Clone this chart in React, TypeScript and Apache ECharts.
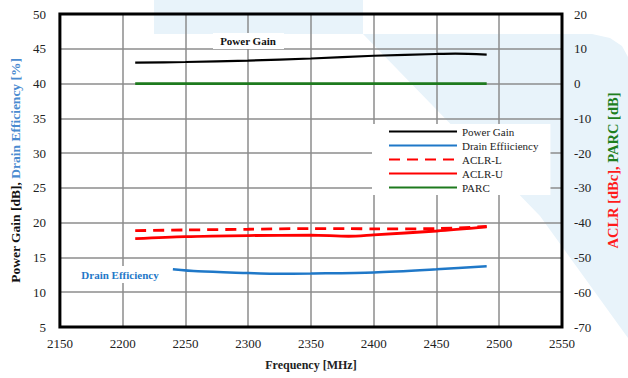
import React, { useEffect, useRef } from "react";
import * as echarts from "echarts";

// ---- data ----
const xTicks = { min: 2150, max: 2550, interval: 50 };
const leftTicks = { min: 5, max: 50, interval: 5 };
const rightTicks = { min: -70, max: 20, interval: 10 };

const gainFreq = [2210, 2250, 2300, 2350, 2400, 2450, 2465, 2490];
const gainVals = [43.0, 43.1, 43.3, 43.6, 44.0, 44.25, 44.3, 44.15];

const effFreq = [2240, 2260, 2300, 2320, 2350, 2400, 2450, 2490];
const effVals = [13.3, 13.0, 12.75, 12.65, 12.7, 12.85, 13.3, 13.75];

const aclrFreq = [2210, 2250, 2300, 2350, 2380, 2400, 2450, 2490];
const aclrLVals = [-42.3, -42.1, -41.9, -41.7, -41.7, -41.8, -41.7, -41.1];
const aclrUVals = [-44.6, -44.0, -43.7, -43.6, -43.9, -43.5, -42.4, -41.2];

const parcFreq = [2210, 2350, 2490];
const parcVals = [0, 0, 0];

const seriesNames = ["Power Gain", "Drain Effiiciency", "ACLR-L", "ACLR-U", "PARC"];

const zip = (xs: number[], ys: number[]) => xs.map((x, i) => [x, ys[i]]);

const FONT = "Liberation Serif";

export default function App() {
  const ref = useRef<HTMLDivElement>(null);
  useEffect(() => {
    document.body.style.margin = "0";
    if (!ref.current) return;
    const chart = echarts.init(ref.current, undefined, { renderer: "svg" });
    const wm = "#e8f3fa";
    const option: any = {
      animation: false,
      textStyle: { fontFamily: FONT },
      grid: {
        left: 55,
        right: 58,
        top: 14,
        bottom: 51,
        show: true,
        borderColor: "#000",
        borderWidth: 3,
        backgroundColor: "transparent",
        z: 10,
      },
      graphic: [
        {
          type: "rect",
          z: -100,
          silent: true,
          shape: { x: 154, y: 0, width: 209, height: 34 },
          style: { fill: wm },
        },
        {
          type: "polygon",
          z: -100,
          silent: true,
          shape: {
            points: [
              [363, 34],
              [592, 34],
              [610, 38],
              [622, 46],
              [628, 57],
              [628, 338],
              [540, 216],
            ],
          },
          style: { fill: wm },
        },
        {
          type: "rect",
          z: 20,
          silent: true,
          shape: { x: 213, y: 33, width: 71, height: 16 },
          style: { fill: "#fff" },
        },
        {
          type: "text",
          z: 21,
          silent: true,
          x: 248,
          y: 41,
          style: {
            text: "Power Gain",
            fill: "#111",
            font: `bold 11px "${FONT}"`,
            align: "center",
            verticalAlign: "middle",
          },
        },
        {
          type: "rect",
          z: 20,
          silent: true,
          shape: { x: 78, y: 266, width: 86, height: 17 },
          style: { fill: "#fff" },
        },
        {
          type: "text",
          z: 21,
          silent: true,
          x: 120,
          y: 274.5,
          style: {
            text: "Drain Efficiency",
            fill: "#1f78c8",
            font: `bold 11px "${FONT}"`,
            align: "center",
            verticalAlign: "middle",
          },
        },
      ],
      legend: {
        data: seriesNames,
        orient: "vertical",
        left: 372,
        top: 124,
        backgroundColor: "#fff",
        padding: [2, 12, 2, 16],
        itemWidth: 68,
        itemHeight: 10,
        itemGap: 3,
        itemStyle: { opacity: 0 },
        textStyle: { fontFamily: FONT, fontSize: 11, color: "#222" },
        z: 15,
      },
      xAxis: {
        type: "value",
        min: xTicks.min,
        max: xTicks.max,
        interval: xTicks.interval,
        axisLine: { show: false },
        axisTick: { show: false },
        axisLabel: {
          fontSize: 13,
          color: "#222",
          margin: 10,
          fontFamily: FONT,
          formatter: (v: number) => String(v),
        },
        splitLine: { lineStyle: { color: "#8c8c8c", width: 1.5 } },
        name: "Frequency [MHz]",
        nameLocation: "middle",
        nameGap: 32,
        nameTextStyle: { fontSize: 12, fontWeight: "bold", color: "#222", fontFamily: FONT },
      },
      yAxis: [
        {
          type: "value",
          position: "left",
          min: leftTicks.min,
          max: leftTicks.max,
          interval: leftTicks.interval,
          axisLine: { show: false },
          axisTick: { show: false },
          axisLabel: { fontSize: 13, color: "#222", margin: 14, fontFamily: FONT },
          splitLine: { lineStyle: { color: "#8c8c8c", width: 1.5 } },
          name: "{a|Power Gain [dB], }{b|Drain Efficiency [%]}",
          nameLocation: "middle",
          nameGap: 36,
          nameRotate: 90,
          nameTextStyle: {
            rich: {
              a: { fontSize: 13.5, fontWeight: "bold", color: "#111", fontFamily: FONT },
              b: { fontSize: 13.5, fontWeight: "bold", color: "#4a8bd0", fontFamily: FONT },
            },
          },
        },
        {
          type: "value",
          position: "right",
          min: rightTicks.min,
          max: rightTicks.max,
          interval: rightTicks.interval,
          axisLine: { show: false },
          axisTick: { show: false },
          axisLabel: { fontSize: 13, color: "#222", margin: 12, fontFamily: FONT },
          splitLine: { show: false },
          name: "{a|ACLR [dBc], }{b|PARC [dB]}",
          nameLocation: "middle",
          nameGap: 43,
          nameRotate: 90,
          nameTextStyle: {
            rich: {
              a: { fontSize: 14.5, fontWeight: "bold", color: "#ff1a1a", fontFamily: FONT },
              b: { fontSize: 14.5, fontWeight: "bold", color: "#1e7f1e", fontFamily: FONT },
            },
          },
        },
      ],
      series: [
        {
          name: seriesNames[0],
          type: "line",
          yAxisIndex: 0,
          data: zip(gainFreq, gainVals),
          symbol: "none",
          smooth: 0.3,
          color: "#000",
          lineStyle: { width: 2.2, color: "#000" },
        },
        {
          name: seriesNames[1],
          type: "line",
          yAxisIndex: 0,
          data: zip(effFreq, effVals),
          symbol: "none",
          smooth: 0.3,
          color: "#1f78c8",
          lineStyle: { width: 2.5, color: "#1f78c8" },
        },
        {
          name: seriesNames[2],
          type: "line",
          yAxisIndex: 1,
          data: zip(aclrFreq, aclrLVals),
          symbol: "none",
          smooth: 0.3,
          color: "#ff0000",
          lineStyle: { width: 2.8, color: "#ff0000", type: [11, 7] },
        },
        {
          name: seriesNames[3],
          type: "line",
          yAxisIndex: 1,
          data: zip(aclrFreq, aclrUVals),
          symbol: "none",
          smooth: 0.3,
          color: "#ff0000",
          lineStyle: { width: 2.8, color: "#ff0000" },
        },
        {
          name: seriesNames[4],
          type: "line",
          yAxisIndex: 1,
          data: zip(parcFreq, parcVals),
          symbol: "none",
          color: "#1e7a1e",
          lineStyle: { width: 2.8, color: "#1e7a1e" },
        },
      ],
    };
    chart.setOption(option);
    return () => chart.dispose();
  }, []);
  return <div ref={ref} style={{ width: 628, height: 378 }} />;
}
